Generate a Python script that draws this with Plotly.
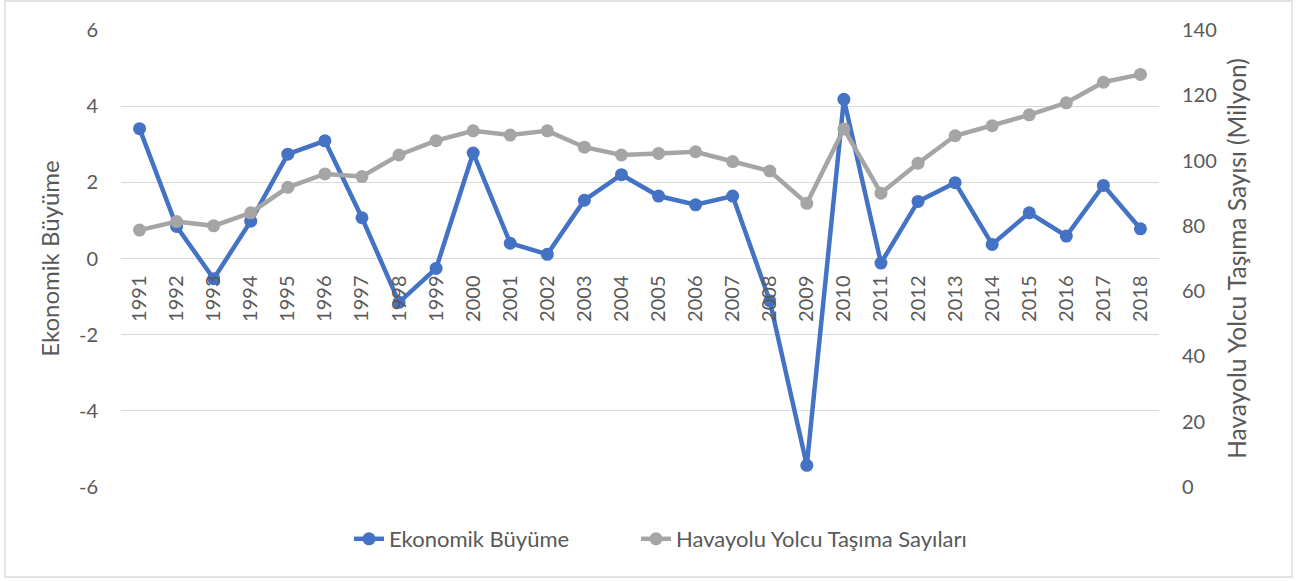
import plotly.graph_objects as go

years = [str(y) for y in range(1991, 2019)]
ekonomik_buyume = [3.41, 0.84, -0.53, 0.98, 2.74, 3.09, 1.07, -1.15, -0.26, 2.77,
                   0.40, 0.11, 1.53, 2.20, 1.64, 1.41, 1.64, -1.11, -5.43, 4.18,
                   -0.12, 1.50, 1.99, 0.37, 1.20, 0.59, 1.92, 0.78]
havayolu_yolcu = [78.7, 81.3, 80.0, 84.0, 91.8, 95.9, 95.1, 101.7, 106.1, 109.1,
                  107.8, 109.1, 104.1, 101.7, 102.2, 102.7, 99.7, 96.8, 86.9, 109.7,
                  90.0, 99.2, 107.6, 110.7, 114.0, 117.7, 124.0, 126.4]
left_ticks = [-6, -4, -2, 0, 2, 4, 6]
left_ticktext = ["-6", "-4", "-2", "0", "2", "4", "6"]
right_ticks = [0, 20, 40, 60, 80, 100, 120, 140]

BLUE = "#4472C4"
GRAY = "#A5A5A5"
TXT = "#595959"
FONT = "Lato"

fig = go.Figure()
fig.add_trace(go.Scatter(
    x=years, y=ekonomik_buyume, name="Ekonomik Büyüme", mode="lines+markers",
    line=dict(color=BLUE, width=4.5), marker=dict(color=BLUE, size=13),
    yaxis="y", legend="legend"))
fig.add_trace(go.Scatter(
    x=years, y=havayolu_yolcu, name="Havayolu Yolcu Taşıma Sayıları", mode="lines+markers",
    line=dict(color=GRAY, width=4.5), marker=dict(color=GRAY, size=13),
    yaxis="y2", legend="legend2"))

L, R, T, B = 121, 148, 30, 94
W, H = 1307, 581
pw = W - L - R
ph = H - T - B

def px(x):
    return (x - L) / pw

def py(y):
    return (H - B - y) / ph

legend_common = dict(orientation="h", yanchor="middle", xanchor="left",
                     font=dict(size=22, color=TXT, family=FONT),
                     bgcolor="rgba(0,0,0,0)")

fig.update_layout(
    width=W, height=H,
    margin=dict(l=L, r=R, t=T, b=B),
    paper_bgcolor="white", plot_bgcolor="white",
    font=dict(family=FONT, color=TXT, size=18),
    showlegend=True,
    legend=dict(x=px(349), y=py(539), **legend_common),
    legend2=dict(x=px(636), y=py(539), **legend_common),
    xaxis=dict(type="category", range=[-0.5, 27.5], tickangle=-90,
               anchor="free", position=0.5, showgrid=False, showline=False,
               zeroline=False, ticks="", ticklabelstandoff=12,
               tickfont=dict(size=20, color=TXT, family=FONT)),
    yaxis=dict(range=[-6, 6], tickvals=left_ticks, ticktext=left_ticktext,
               showgrid=True, gridcolor="#D9D9D9", gridwidth=1.3,
               zeroline=False, showline=False, ticks="", ticklabelstandoff=22,
               tickfont=dict(size=20, color=TXT, family=FONT),
               title=dict(text="Ekonomik Büyüme", font=dict(size=24, color=TXT, family=FONT),
                          standoff=12)),
    yaxis2=dict(range=[0, 140], tickvals=right_ticks, overlaying="y", side="right", showgrid=False,
                zeroline=False, showline=False, ticks="", ticklabelstandoff=22,
                tickfont=dict(size=20, color=TXT, family=FONT),
                title=dict(text="Havayolu Yolcu Taşıma Sayısı (Milyon)",
                           font=dict(size=24.5, color=TXT, family=FONT), standoff=13)),
    shapes=[dict(type="rect", xref="paper", yref="paper",
                 x0=px(5), x1=px(1292), y0=py(577), y1=py(1),
                 line=dict(color="#D9D9D9", width=1.3), fillcolor="rgba(0,0,0,0)",
                 layer="below")],
)

fig.write_html("out.html", config={"displayModeBar": False},
               post_script="document.body.style.margin='0';")
